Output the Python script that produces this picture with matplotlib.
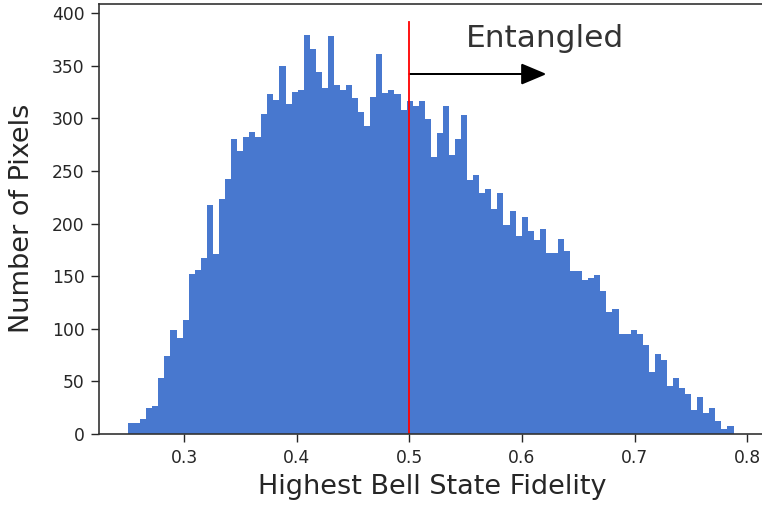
import numpy as np
import matplotlib
matplotlib.use("Agg")
import matplotlib.pyplot as plt

# Histogram counts (100 bins)
counts = [10, 10, 14, 25, 27, 53, 74, 99, 91, 108,
          152, 156, 167, 218, 171, 223, 242, 280, 269, 282,
          287, 282, 304, 323, 317, 350, 314, 325, 327, 379,
          366, 344, 329, 378, 332, 327, 332, 319, 306, 293,
          320, 361, 324, 327, 323, 308, 316, 312, 316, 299,
          263, 286, 312, 265, 280, 303, 241, 246, 229, 233,
          214, 229, 199, 212, 188, 206, 193, 184, 195, 172,
          172, 185, 174, 155, 155, 146, 148, 151, 136, 116,
          119, 95, 95, 99, 95, 85, 59, 76, 70, 46,
          53, 44, 38, 23, 35, 20, 25, 12, 5, 8]
fid_min, fid_max = 0.25, 0.788
threshold = 0.5
xticks = [0.3, 0.4, 0.5, 0.6, 0.7, 0.8]
yticks = [0, 50, 100, 150, 200, 250, 300, 350, 400]

edges = np.linspace(fid_min, fid_max, len(counts) + 1)
centers = (edges[:-1] + edges[1:]) / 2

fig = plt.figure(figsize=(7.62, 5.07), dpi=100)
ax = fig.add_axes([0.130, 0.144, 0.874, 0.849])

ax.hist(centers, bins=edges, weights=counts, color='#4878CF')
ax.plot([threshold, threshold], [0, 391], color='red', lw=1.3)
ax.arrow(threshold, 342, 0.1, 0, head_width=18, head_length=0.02,
         color='black', lw=1.2, length_includes_head=False)
ax.text(0.55, 368, 'Entangled', fontsize=22.5, color='#333333')

ax.set_xlim(0.2242, 0.816)
ax.set_ylim(0, 409)
ax.set_xticks(xticks)
ax.set_yticks(yticks)
ax.set_xticklabels([str(t) for t in xticks])
ax.tick_params(labelsize=12.3, colors='#262626', length=5.5, width=1, pad=5)
for s in ax.spines.values():
    s.set_color('#333333')
    s.set_linewidth(1.2)

ax.set_xlabel('Highest Bell State Fidelity', fontsize=19.5, color='#262626')
ax.set_ylabel('Number of Pixels', fontsize=19.5, color='#262626')
ax.yaxis.set_label_coords(-0.096, 0.5)
ax.xaxis.set_label_coords(0.5, -0.094)

fig.savefig('out.png', dpi=100)
